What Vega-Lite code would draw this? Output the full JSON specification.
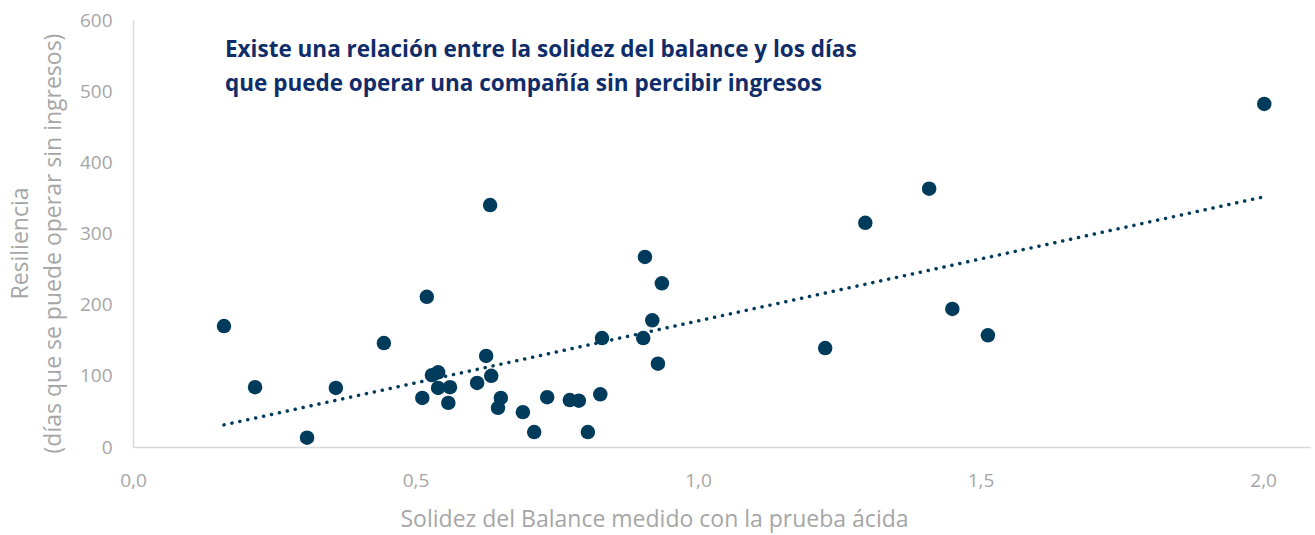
{
  "$schema": "https://vega.github.io/schema/vega-lite/v6.json",
  "autosize": "none",
  "width": 1177,
  "height": 427,
  "padding": {"left": 133, "top": 20, "right": 5, "bottom": 88},
  "background": "white",
  "config": {"view": {"stroke": null}, "font": "Open Sans"},
  "title": {
    "text": ["Existe una relación entre la solidez del balance y los días", "que puede operar una compañía sin percibir ingresos"],
    "anchor": "start",
    "frame": "group",
    "orient": "top",
    "baseline": "top",
    "dx": 92,
    "dy": 88,
    "fontSize": 22.5,
    "lineHeight": 34,
    "fontWeight": "bold",
    "color": "#0F2D69",
    "font": "Open Sans"
  },
  "data": {"values": [
    {"acida": 0.161, "resiliencia": 170},
    {"acida": 0.216, "resiliencia": 84},
    {"acida": 0.308, "resiliencia": 13},
    {"acida": 0.359, "resiliencia": 83},
    {"acida": 0.444, "resiliencia": 146},
    {"acida": 0.520, "resiliencia": 211},
    {"acida": 0.512, "resiliencia": 69},
    {"acida": 0.529, "resiliencia": 101},
    {"acida": 0.540, "resiliencia": 105},
    {"acida": 0.540, "resiliencia": 83},
    {"acida": 0.561, "resiliencia": 84},
    {"acida": 0.558, "resiliencia": 62},
    {"acida": 0.609, "resiliencia": 90},
    {"acida": 0.625, "resiliencia": 128},
    {"acida": 0.634, "resiliencia": 100},
    {"acida": 0.632, "resiliencia": 340},
    {"acida": 0.651, "resiliencia": 69},
    {"acida": 0.646, "resiliencia": 55},
    {"acida": 0.690, "resiliencia": 49},
    {"acida": 0.710, "resiliencia": 21},
    {"acida": 0.733, "resiliencia": 70},
    {"acida": 0.773, "resiliencia": 66},
    {"acida": 0.789, "resiliencia": 65},
    {"acida": 0.805, "resiliencia": 21},
    {"acida": 0.827, "resiliencia": 74},
    {"acida": 0.830, "resiliencia": 153},
    {"acida": 0.903, "resiliencia": 153},
    {"acida": 0.906, "resiliencia": 267},
    {"acida": 0.919, "resiliencia": 178},
    {"acida": 0.929, "resiliencia": 117},
    {"acida": 0.936, "resiliencia": 230},
    {"acida": 1.225, "resiliencia": 139},
    {"acida": 1.296, "resiliencia": 315},
    {"acida": 1.409, "resiliencia": 363},
    {"acida": 1.450, "resiliencia": 194},
    {"acida": 1.513, "resiliencia": 157},
    {"acida": 2.002, "resiliencia": 482}
  ]},
  "encoding": {
    "x": {
      "field": "acida", "type": "quantitative",
      "scale": {"domain": [0, 2.083], "nice": false, "zero": true},
      "axis": {
        "title": "Solidez del Balance medido con la prueba ácida",
        "values": [0, 0.5, 1, 1.5, 2],
        "labelExpr": "replace(format(datum.value, '.1f'), '.', ',')",
        "labelFlush": false,
        "grid": false, "ticks": false,
        "domainColor": "#D9D9D9", "domainWidth": 1.5,
        "labelColor": "#A6A6A6", "labelFontSize": 19, "labelPadding": 24,
        "labelFont": "Open Sans",
        "titleColor": "#A6A6A6", "titleFontSize": 23, "titleFontWeight": "normal",
        "titleFont": "Open Sans", "titlePadding": 18,
        "titleAnchor": "start", "titleAlign": "left", "titleX": 267
      }
    },
    "y": {
      "field": "resiliencia", "type": "quantitative",
      "scale": {"domain": [0, 600], "nice": false},
      "axis": {
        "title": ["Resiliencia", "(días que se puede operar sin ingresos)"],
        "values": [0, 100, 200, 300, 400, 500, 600],
        "labelFlush": false,
        "grid": false, "ticks": false,
        "domainColor": "#D9D9D9", "domainWidth": 1.5,
        "labelColor": "#A6A6A6", "labelFontSize": 19, "labelPadding": 21,
        "labelFont": "Open Sans",
        "titleColor": "#A6A6A6", "titleFontSize": 23, "titleFontWeight": "normal",
        "titleFont": "Open Sans", "titlePadding": 14, "titleLineHeight": 33,
        "titleY": 223
      }
    }
  },
  "layer": [
    {
      "transform": [{"regression": "resiliencia", "on": "acida", "extent": [0.161, 2.0]}],
      "mark": {"type": "line", "color": "#003B5C", "strokeWidth": 3.5, "strokeDash": [0.1, 8], "strokeCap": "round"}
    },
    {
      "mark": {"type": "circle", "size": 210, "opacity": 1, "color": "#003B5C"}
    }
  ]
}
